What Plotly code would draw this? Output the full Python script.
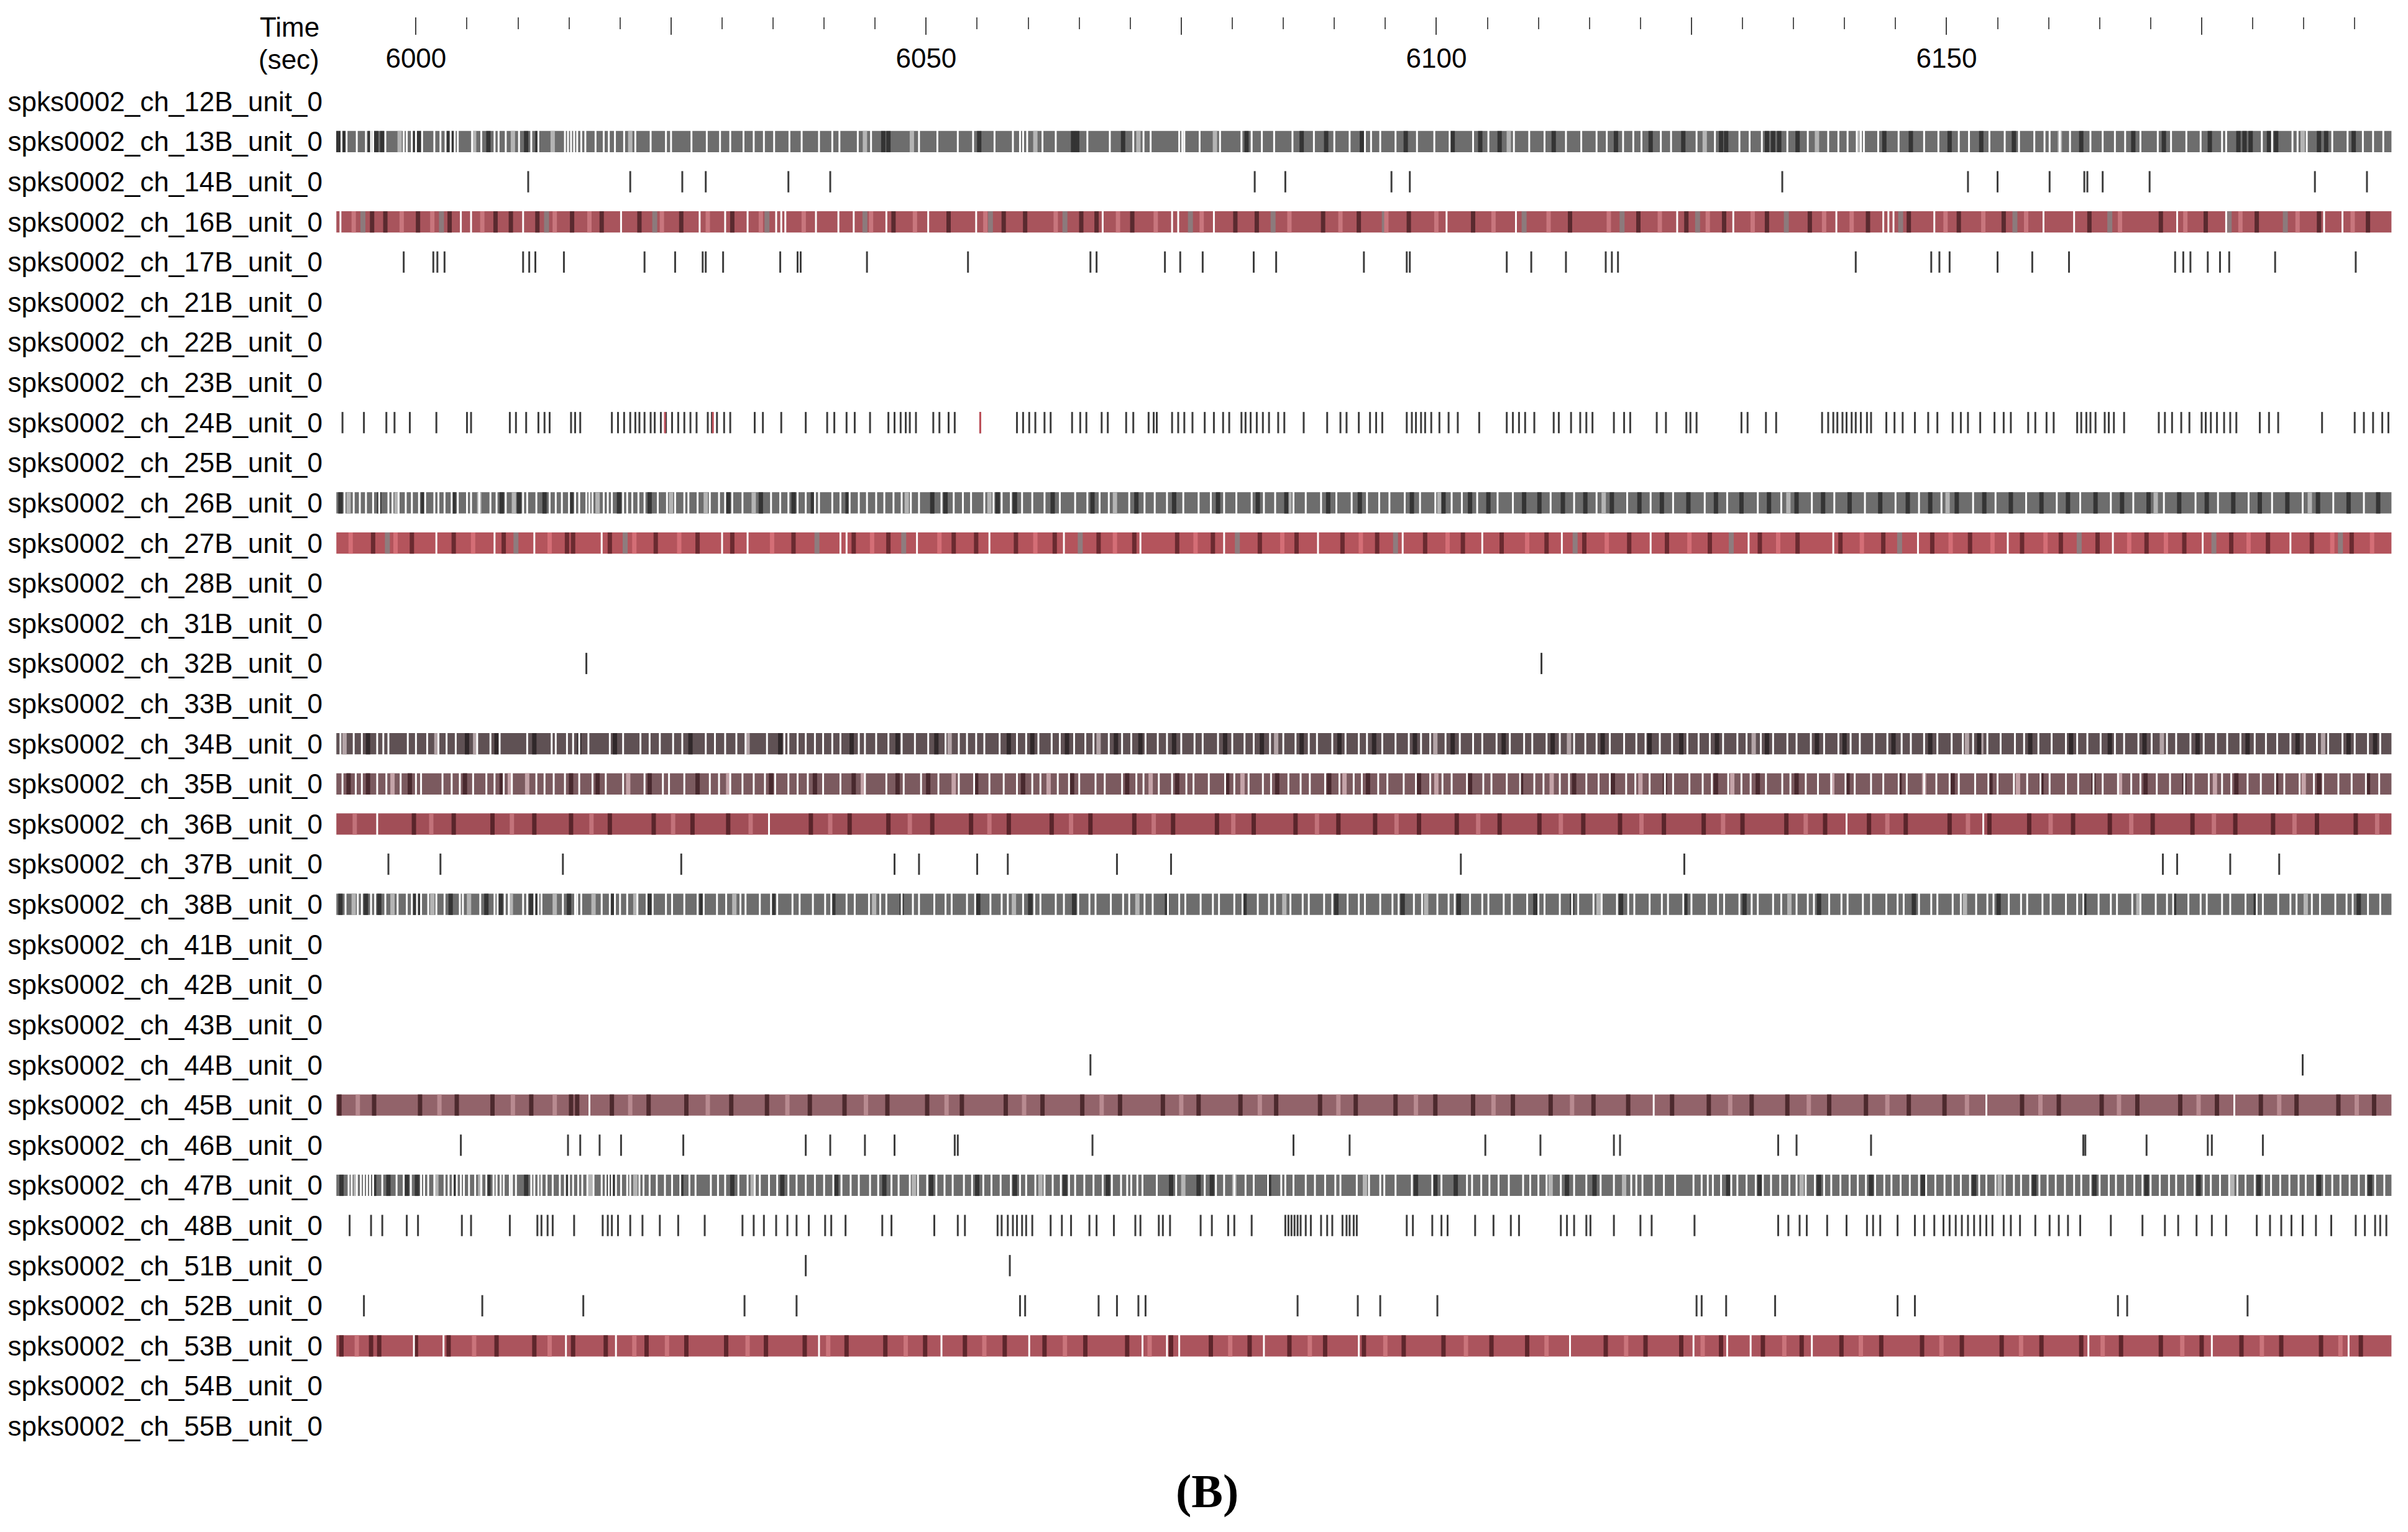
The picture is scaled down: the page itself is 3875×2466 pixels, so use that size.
import plotly.graph_objects as go

# channel rows, top to bottom
channels = ["12B", "13B", "14B", "16B", "17B", "21B", "22B", "23B", "24B", "25B",
            "26B", "27B", "28B", "31B", "32B", "33B", "34B", "35B", "36B", "37B",
            "38B", "41B", "42B", "43B", "44B", "45B", "46B", "47B", "48B", "51B",
            "52B", "53B", "54B", "55B"]
row_names = [f"spks0002_ch_{c}_unit_0" for c in channels]

t_start, t_end = 5992.2, 6193.6

# ---- sparse units: spike times (sec) ----
spikes_14B = [6011.0, 6021.0, 6026.1, 6028.4, 6036.5, 6040.6, 6082.2, 6085.2, 6095.6, 6097.4,
              6133.9, 6152.1, 6155.0, 6160.1, 6163.5, 6163.8, 6165.3, 6169.9, 6186.1, 6191.2]
spikes_17B = [5998.8, 6001.7, 6002.1, 6002.8, 6010.5, 6011.1, 6011.7, 6014.5, 6022.4, 6025.4,
              6028.1, 6028.4, 6030.1, 6035.7, 6037.4, 6037.7, 6044.2, 6054.1, 6066.1, 6066.7,
              6073.4, 6074.9, 6077.1, 6082.1, 6084.3, 6092.9, 6097.1, 6097.4, 6106.9, 6109.3,
              6112.7, 6116.6, 6117.2, 6117.8, 6141.1, 6148.5, 6149.3, 6150.3, 6155.0, 6158.4,
              6162.0, 6172.4, 6173.2, 6173.9, 6175.6, 6176.8, 6177.7, 6182.2, 6190.1]
spikes_24B = [5992.8, 5994.9, 5997.1, 5997.9, 5999.4, 6002.0, 6005.0, 6005.4, 6009.2, 6009.8,
              6010.8, 6012.0, 6012.6, 6013.1, 6015.2, 6015.6, 6016.1, 6019.2, 6019.8, 6020.4,
              6021.0, 6021.5, 6021.9, 6022.4, 6023.0, 6023.4, 6024.0, 6024.5, 6025.1, 6025.7,
              6026.3, 6026.9, 6027.5, 6028.6, 6029.0, 6029.5, 6030.2, 6030.8, 6033.2, 6034.0,
              6035.8, 6038.2, 6040.3, 6041.0, 6042.2, 6043.0, 6044.5, 6046.3, 6046.9, 6047.5,
              6048.0, 6048.4, 6049.0, 6050.7, 6051.3, 6052.2, 6052.8, 6055.3, 6058.9, 6059.5,
              6060.1, 6060.7, 6061.6, 6062.2, 6064.3, 6065.1, 6065.7, 6067.2, 6067.8, 6069.6,
              6070.3, 6071.8, 6072.3, 6072.6, 6074.1, 6074.7, 6075.3, 6076.1, 6077.3, 6078.2,
              6079.1, 6079.7, 6080.9, 6081.3, 6081.8, 6082.4, 6083.0, 6083.6, 6084.5, 6085.1,
              6087.0, 6089.3, 6090.6, 6091.2, 6092.4, 6093.5, 6094.1, 6094.7, 6097.1, 6097.6,
              6098.0, 6098.5, 6098.9, 6099.5, 6100.3, 6101.2, 6102.1, 6104.2, 6106.9, 6107.5,
              6108.1, 6108.7, 6109.6, 6111.5, 6112.0, 6113.2, 6114.1, 6114.7, 6115.3, 6117.4,
              6118.4, 6119.0, 6121.6, 6122.5, 6124.5, 6124.9, 6125.5, 6129.9, 6130.5, 6132.3,
              6133.3, 6137.8, 6138.4, 6138.9, 6139.3, 6139.8, 6140.2, 6140.7, 6141.1, 6141.6,
              6142.2, 6142.6, 6144.1, 6144.9, 6145.7, 6146.9, 6148.2, 6149.1, 6150.6, 6151.4,
              6152.1, 6153.3, 6154.7, 6155.6, 6156.3, 6158.0, 6158.7, 6159.8, 6160.5, 6162.8,
              6163.2, 6163.7, 6164.1, 6164.6, 6165.5, 6165.9, 6166.4, 6167.4, 6170.8, 6171.4,
              6172.1, 6173.0, 6173.8, 6175.0, 6175.4, 6175.9, 6176.5, 6177.2, 6177.8, 6178.4,
              6180.7, 6181.6, 6182.5, 6186.8, 6190.0, 6190.9, 6191.8, 6192.7, 6193.3]
spikes_24B_red = [6024.4, 6029.1, 6055.3]
spikes_32B = [6016.7, 6110.3]
spikes_37B = [5997.3, 6002.4, 6014.4, 6026.0, 6046.9, 6049.3, 6055.0, 6058.0, 6068.7, 6074.0,
              6102.4, 6124.3, 6171.2, 6172.6, 6177.8, 6182.6]
spikes_44B = [6066.1, 6184.9]
spikes_46B = [6004.4, 6014.9, 6016.1, 6018.0, 6020.1, 6026.2, 6038.2, 6040.6, 6044.0, 6046.9,
              6052.8, 6053.1, 6066.3, 6086.0, 6091.5, 6104.8, 6110.2, 6117.4, 6118.0, 6133.5,
              6135.3, 6142.6, 6163.4, 6163.6, 6169.6, 6175.6, 6176.0, 6181.0]
spikes_48B = [5993.5, 5995.6, 5996.7, 5999.1, 6000.2, 6004.5, 6005.4, 6009.2, 6011.9, 6012.3,
              6012.9, 6013.4, 6015.5, 6018.3, 6018.8, 6019.2, 6019.8, 6021.0, 6022.2, 6023.9,
              6025.7, 6028.3, 6032.0, 6033.1, 6034.1, 6035.3, 6036.4, 6037.3, 6038.5, 6040.1,
              6040.7, 6042.1, 6045.7, 6046.6, 6050.8, 6053.1, 6053.8, 6057.0, 6057.4, 6058.0,
              6058.5, 6058.9, 6059.4, 6059.8, 6060.4, 6062.2, 6063.3, 6064.2, 6066.0, 6066.7,
              6068.4, 6070.5, 6071.0, 6072.8, 6073.2, 6073.9, 6076.9, 6078.0, 6079.6, 6080.2,
              6081.9, 6085.2, 6085.5, 6085.8, 6086.1, 6086.4, 6086.7, 6087.2, 6087.7, 6088.7,
              6089.3, 6089.8, 6090.8, 6091.2, 6091.5, 6091.9, 6092.2, 6097.1, 6097.7, 6099.6,
              6100.5, 6101.1, 6103.8, 6105.6, 6107.3, 6108.1, 6112.2, 6112.8, 6113.5, 6114.7,
              6115.1, 6117.4, 6120.0, 6121.1, 6125.3, 6133.5, 6134.5, 6135.6, 6136.3, 6138.3,
              6140.2, 6142.2, 6142.8, 6143.5, 6145.2, 6146.9, 6147.8, 6148.8, 6149.7, 6150.3,
              6150.9, 6151.5, 6152.1, 6152.7, 6153.3, 6153.9, 6154.5, 6155.6, 6156.3, 6157.2,
              6158.7, 6160.1, 6161.0, 6161.9, 6163.1, 6166.1, 6169.2, 6171.4, 6172.7, 6174.5,
              6176.0, 6177.4, 6180.4, 6181.7, 6182.8, 6183.8, 6184.9, 6186.2, 6187.7, 6190.1,
              6191.0, 6192.0, 6192.5, 6193.1]
spikes_51B = [6038.2, 6058.2]
spikes_52B = [5994.9, 6006.5, 6016.4, 6032.2, 6037.3, 6059.2, 6059.7, 6066.9, 6068.7, 6070.8,
              6071.5, 6086.4, 6092.3, 6094.5, 6100.1, 6125.5, 6126.0, 6128.4, 6133.2, 6145.2,
              6146.9, 6166.8, 6167.7, 6179.5]

# ---- dense units: white gaps, dark / light / grey stripes (sec) ----
gaps_13B = [5992.7, 5993.2, 5994.2, 5995.1, 5995.6, 5995.8, 5997.0, 5998.8, 5999.1, 5999.6,
            6000.0, 6000.6, 6001.8, 6002.4, 6002.9, 6003.4, 6003.8, 6004.1, 6005.5, 6006.4,
            6007.7, 6008.1, 6008.8, 6010.1, 6011.3, 6012.0, 6014.6, 6014.9, 6015.2, 6015.5,
            6015.8, 6016.2, 6016.6, 6017.6, 6018.4, 6018.9, 6019.5, 6020.4, 6021.5, 6023.0,
            6024.5, 6025.0, 6027.0, 6028.5, 6029.8, 6030.8, 6032.1, 6033.1, 6034.1, 6035.1,
            6036.6, 6037.8, 6039.5, 6040.8, 6041.5, 6043.3, 6044.6, 6049.3, 6051.1, 6053.1,
            6054.6, 6056.7, 6058.5, 6059.2, 6059.5, 6059.9, 6061.4, 6062.7, 6065.8, 6068.0,
            6070.3, 6071.3, 6072.0, 6074.8, 6075.1, 6075.3, 6076.8, 6078.8, 6080.9, 6081.9,
            6082.9, 6084.1, 6085.9, 6088.0, 6090.0, 6091.5, 6093.0, 6093.6, 6094.5, 6096.0,
            6098.1, 6099.8, 6101.3, 6103.6, 6105.1, 6107.6, 6109.1, 6110.6, 6112.7, 6114.2,
            6115.7, 6116.7, 6118.3, 6119.3, 6120.1, 6122.0, 6123.0, 6125.5, 6127.3, 6129.7,
            6130.7, 6131.9, 6134.4, 6136.4, 6138.4, 6139.4, 6140.3, 6141.2, 6141.6, 6141.9,
            6143.3, 6145.3, 6147.8, 6149.2, 6151.2, 6152.2, 6154.2, 6155.7, 6157.1, 6158.6,
            6159.6, 6160.1, 6161.1, 6162.1, 6164.1, 6165.3, 6166.5, 6167.5, 6169.0, 6170.7,
            6172.0, 6173.5, 6174.9, 6177.0, 6177.4, 6180.9, 6181.9, 6183.9, 6184.4, 6185.3,
            6187.8, 6189.3, 6190.8, 6191.8, 6192.8]
dark_13B = [5992.4, 5992.9, 5995.5, 5996.1, 5996.7, 5999.8, 6000.3, 6003.2, 6003.6, 6007.1,
            6010.8, 6011.9, 6045.8, 6046.3, 6055.2, 6064.4, 6064.8, 6069.3, 6081.4, 6086.8,
            6089.2, 6092.7, 6097.0, 6101.6, 6104.3, 6106.2, 6111.5, 6117.6, 6121.0, 6124.2,
            6127.9, 6128.4, 6132.4, 6133.0, 6133.6, 6135.4, 6143.9, 6146.5, 6150.3, 6153.4,
            6156.6, 6163.2, 6168.3, 6171.3, 6175.8, 6178.6, 6179.2, 6179.8, 6181.6, 6182.3,
            6186.5, 6187.2, 6189.9]
light_13B = [5998.4, 6005.7, 6009.5, 6013.4, 6021.0, 6044.0, 6048.6, 6060.7, 6070.8, 6078.3,
             6107.1, 6126.3, 6137.3, 6141.5, 6161.1, 6184.9]

gaps_16B = [5992.6, 6004.4, 6005.4, 6010.5, 6020.1, 6027.8, 6030.3, 6032.5, 6035.3, 6035.8,
            6036.2, 6039.2, 6041.4, 6042.9, 6046.1, 6050.2, 6054.9, 6067.3, 6074.1, 6074.7,
            6078.2, 6101.0, 6107.8, 6123.6, 6129.1, 6139.2, 6143.8, 6144.3, 6144.8, 6148.8,
            6159.5, 6162.5, 6172.6, 6177.4, 6187.0, 6188.8]
dark_16B = [5995.7, 5997.0, 6000.2, 6003.3, 6007.8, 6009.3, 6011.9, 6015.3, 6018.2, 6021.9,
            6026.0, 6031.0, 6046.8, 6052.2, 6057.6, 6059.7, 6065.2, 6066.7, 6070.2, 6080.3,
            6082.4, 6088.9, 6092.4, 6097.3, 6103.6, 6113.1, 6119.8, 6124.5, 6128.2, 6132.4,
            6136.6, 6142.3, 6146.3, 6151.2, 6155.6, 6164.0, 6171.0, 6175.4, 6180.4, 6186.5,
            6191.3]
light_16B = [5993.9, 5998.6, 6001.6, 6006.5, 6013.6, 6017.0, 6024.1, 6028.6, 6033.8, 6038.0,
             6044.6, 6048.9, 6055.8, 6062.7, 6068.8, 6072.5, 6077.0, 6085.6, 6090.6, 6095.1,
             6100.0, 6105.6, 6111.0, 6116.9, 6121.9, 6126.6, 6131.0, 6138.0, 6140.7, 6149.9,
             6153.6, 6157.8, 6167.0, 6173.4, 6178.8, 6184.4, 6189.8]
grey_16B = [5994.8, 6002.5, 6012.8, 6023.4, 6034.4, 6044.0, 6056.3, 6063.6, 6075.9, 6084.0,
            6094.9, 6108.6, 6118.2, 6125.6, 6134.3, 6145.5, 6156.7, 6166.0, 6177.7, 6183.2]

gaps_26B = [5993.0, 5993.9, 5994.5, 5995.1, 5995.8, 5996.4, 5997.3, 5997.7, 5998.3, 5999.0,
            5999.6, 6000.3, 6000.9, 6001.8, 6002.2, 6002.8, 6003.5, 6004.1, 6005.0, 6005.4,
            6006.2, 6007.3, 6007.9, 6008.8, 6010.5, 6010.9, 6011.8, 6013.1, 6013.7, 6014.3,
            6015.0, 6015.6, 6016.0, 6016.7, 6017.0, 6017.3, 6018.4, 6018.8, 6019.2, 6020.3,
            6020.7, 6021.2, 6021.8, 6022.4, 6023.7, 6024.6, 6025.4, 6026.3, 6026.7, 6027.6,
            6028.8, 6029.7, 6030.3, 6031.0, 6032.0, 6034.8, 6035.7, 6036.5, 6037.4, 6038.2,
            6039.1, 6039.5, 6040.8, 6041.6, 6042.5, 6043.4, 6044.2, 6045.1, 6045.9, 6046.8,
            6047.6, 6048.5, 6049.3, 6051.5, 6052.7, 6053.6, 6054.4, 6055.7, 6056.6, 6057.4,
            6058.3, 6059.4, 6060.4, 6061.6, 6063.1, 6064.6, 6065.8, 6067.0, 6067.9, 6069.9,
            6071.4, 6072.4, 6073.6, 6075.2, 6076.7, 6077.9, 6079.2, 6080.4, 6081.9, 6083.1,
            6084.2, 6086.0, 6087.2, 6088.7, 6090.2, 6091.7, 6093.2, 6094.4, 6095.4, 6096.9,
            6098.4, 6099.9, 6101.5, 6102.5, 6104.0, 6106.0, 6107.5, 6111.2, 6113.5, 6115.7,
            6118.7, 6121.0, 6123.2, 6126.3, 6128.5, 6131.5, 6133.8, 6136.8, 6139.0, 6142.0,
            6145.0, 6147.3, 6149.5, 6152.6, 6154.8, 6157.8, 6160.8, 6163.1, 6166.1, 6168.3,
            6171.3, 6174.4, 6176.6, 6179.6, 6181.9, 6184.9, 6187.9, 6190.9]
dark_26B = [5992.6, 5996.4, 6000.7, 6003.7, 6008.4, 6010.1, 6012.6, 6015.2, 6019.9, 6022.9,
            6030.6, 6033.8, 6037.0, 6038.9, 6042.3, 6050.6, 6051.9, 6057.0, 6058.7, 6062.4,
            6066.3, 6070.6, 6074.3, 6078.6, 6082.5, 6085.3, 6089.4, 6092.5, 6097.6, 6100.7,
            6103.3, 6105.1, 6108.6, 6110.1, 6112.4, 6114.6, 6117.2, 6119.9, 6122.1, 6124.7,
            6127.4, 6129.9, 6132.6, 6135.3, 6137.9, 6140.5, 6143.5, 6146.2, 6148.4, 6151.0,
            6153.7, 6156.3, 6159.3, 6161.9, 6164.6, 6167.2, 6169.8, 6172.8, 6175.5, 6178.1,
            6180.7, 6183.4, 6186.4, 6189.4, 6192.3]
light_26B = [5993.4, 5998.1, 6006.2, 6009.6, 6017.8, 6025.0, 6028.4, 6033.1, 6048.1, 6056.2,
             6068.5, 6085.6, 6100.3, 6116.4, 6134.5, 6150.1, 6170.5, 6185.6]

gaps_27B = [6002.0, 6007.7, 6011.6, 6018.2, 6030.0, 6032.5, 6041.6, 6042.2, 6049.1, 6056.2,
            6063.5, 6071.0, 6079.2, 6088.4, 6096.7, 6104.5, 6112.3, 6121.0, 6130.6, 6138.9,
            6147.2, 6156.0, 6166.3, 6175.1, 6183.7]
dark_27B = [5995.8, 5999.6, 6003.7, 6008.6, 6014.8, 6015.4, 6019.0, 6023.5, 6027.6, 6031.0,
            6037.0, 6042.9, 6046.3, 6052.7, 6054.9, 6058.8, 6062.6, 6066.9, 6070.4, 6074.6,
            6078.1, 6082.7, 6086.3, 6090.8, 6094.2, 6098.9, 6102.6, 6106.4, 6110.8, 6114.5,
            6118.9, 6122.6, 6126.8, 6131.7, 6135.4, 6139.6, 6143.8, 6148.6, 6152.3, 6157.4,
            6161.2, 6164.8, 6169.6, 6173.3, 6177.9, 6181.5, 6185.8, 6189.7]
light_27B = [5993.6, 5998.0, 6005.6, 6013.1, 6021.4, 6025.8, 6034.9, 6044.7, 6051.3, 6060.7,
             6068.5, 6076.4, 6084.9, 6092.6, 6101.1, 6108.9, 6116.7, 6124.8, 6133.5, 6141.7,
             6150.4, 6154.5, 6159.7, 6167.9, 6171.5, 6179.6, 6187.8, 6191.7]
grey_27B = [5997.2, 6009.8, 6020.5, 6039.3, 6047.8, 6065.1, 6080.5, 6096.0, 6113.6, 6128.9,
            6145.4, 6163.0, 6176.2, 6188.6]

gaps_34B = [5992.6, 5993.9, 5994.7, 5996.2, 5996.8, 5997.3, 5999.2, 6000.0, 6001.1, 6002.2,
            6003.0, 6003.9, 6006.0, 6007.3, 6008.2, 6010.9, 6013.3, 6013.7, 6014.8, 6015.4,
            6016.0, 6016.9, 6019.0, 6020.3, 6022.0, 6022.9, 6023.9, 6025.2, 6026.1, 6028.4,
            6029.3, 6030.3, 6031.4, 6032.3, 6034.4, 6036.1, 6036.5, 6037.4, 6038.2, 6039.1,
            6039.9, 6040.8, 6041.6, 6043.4, 6044.0, 6045.1, 6046.3, 6047.6, 6048.9, 6050.2,
            6051.9, 6053.2, 6054.0, 6054.9, 6055.7, 6057.2, 6058.9, 6059.8, 6061.0, 6062.3,
            6063.1, 6064.5, 6065.6, 6066.4, 6067.9, 6069.2, 6070.1, 6071.5, 6072.7, 6073.6,
            6075.0, 6076.3, 6077.1, 6078.6, 6080.0, 6081.2, 6082.1, 6083.7, 6085.0, 6086.2,
            6087.5, 6088.3, 6089.8, 6091.1, 6092.4, 6093.2, 6094.7, 6096.0, 6097.3, 6098.5,
            6099.4, 6100.9, 6102.3, 6103.6, 6104.5, 6105.9, 6107.2, 6108.6, 6109.4, 6110.8,
            6112.1, 6113.5, 6114.6, 6115.7, 6117.0, 6118.4, 6119.6, 6120.5, 6121.9, 6123.1,
            6124.6, 6125.7, 6126.8, 6128.1, 6129.5, 6130.4, 6131.8, 6133.0, 6134.4, 6135.3,
            6136.7, 6138.0, 6139.4, 6140.6, 6141.5, 6142.9, 6144.2, 6145.6, 6146.5, 6147.8,
            6149.1, 6150.5, 6151.6, 6152.6, 6154.0, 6155.3, 6156.7, 6157.6, 6159.0, 6160.3,
            6161.7, 6162.8, 6163.8, 6165.1, 6166.5, 6167.4, 6168.8, 6170.1, 6171.6, 6172.5,
            6173.9, 6175.2, 6176.4, 6177.5, 6178.8, 6180.2, 6181.3, 6182.4, 6183.7, 6185.1,
            6186.3, 6187.4, 6188.8, 6190.0, 6191.3, 6192.5]
dark_34B = [5995.3, 6005.0, 6007.9, 6011.6, 6016.0, 6019.5, 6026.9, 6035.7, 6042.7, 6047.2,
            6051.0, 6058.1, 6060.4, 6063.8, 6068.6, 6071.0, 6074.3, 6079.3, 6082.9, 6086.8,
            6090.5, 6093.9, 6097.9, 6101.6, 6106.6, 6111.4, 6116.3, 6120.9, 6124.0, 6127.5,
            6132.4, 6137.3, 6140.0, 6144.8, 6148.4, 6153.2, 6158.2, 6162.2, 6166.0, 6169.4,
            6174.6, 6179.5, 6184.4, 6189.4, 6192.0]
light_34B = [5993.0, 6002.0, 6005.8, 6032.5, 6052.3, 6066.9, 6084.3, 6099.9, 6113.0, 6131.1,
             6152.0, 6153.4, 6171.1, 6186.9]

gaps_35B = [5992.8, 5994.1, 5994.7, 5996.2, 5997.1, 5998.5, 6000.0, 6000.5, 6002.6, 6003.5,
            6004.3, 6005.6, 6006.9, 6007.7, 6008.6, 6009.4, 6011.8, 6012.6, 6013.5, 6014.6,
            6016.0, 6017.3, 6018.6, 6020.3, 6022.4, 6024.2, 6024.8, 6026.3, 6028.8, 6029.7,
            6030.8, 6032.0, 6033.1, 6034.2, 6035.2, 6036.5, 6037.4, 6038.4, 6039.9, 6041.6,
            6044.0, 6046.1, 6047.8, 6049.5, 6051.2, 6053.2, 6054.7, 6056.2, 6057.6, 6058.9,
            6060.4, 6061.2, 6062.9, 6064.0, 6065.0, 6066.6, 6067.5, 6069.2, 6070.6, 6071.3,
            6072.8, 6074.1, 6075.5, 6076.2, 6077.7, 6079.3, 6080.2, 6081.6, 6083.0, 6083.8,
            6085.5, 6086.7, 6087.6, 6089.1, 6090.5, 6091.9, 6092.7, 6094.3, 6095.2, 6096.8,
            6098.0, 6099.4, 6100.6, 6101.5, 6103.0, 6104.6, 6105.4, 6106.9, 6108.2, 6109.6,
            6110.5, 6112.1, 6113.0, 6114.7, 6115.9, 6117.0, 6118.6, 6119.5, 6120.9, 6122.4,
            6123.2, 6124.8, 6126.1, 6127.0, 6128.6, 6129.9, 6130.8, 6132.3, 6133.9, 6134.7,
            6136.2, 6137.4, 6138.7, 6140.1, 6141.0, 6142.6, 6143.8, 6145.3, 6146.1, 6147.8,
            6149.0, 6150.3, 6151.2, 6152.8, 6154.1, 6155.0, 6156.6, 6157.9, 6159.2, 6160.1,
            6161.7, 6162.9, 6164.4, 6165.3, 6166.8, 6168.1, 6169.0, 6170.6, 6171.9, 6173.3,
            6174.2, 6175.7, 6177.0, 6177.9, 6179.5, 6180.8, 6182.2, 6183.1, 6184.6, 6186.0,
            6186.9, 6188.4, 6189.7, 6191.1, 6192.4]
dark_35B = [5993.4, 5995.3, 5999.4, 6004.8, 6008.4, 6015.2, 6017.8, 6022.9, 6027.6, 6034.8,
            6039.1, 6042.9, 6047.2, 6050.2, 6054.9, 6059.5, 6064.3, 6069.7, 6074.6, 6079.5,
            6084.4, 6089.5, 6093.3, 6098.3, 6103.3, 6108.3, 6113.5, 6117.3, 6122.4, 6127.4,
            6131.5, 6135.3, 6140.3, 6145.4, 6150.6, 6154.3, 6159.3, 6164.4, 6169.5, 6173.3,
            6178.4, 6182.3, 6186.5, 6191.3]
light_35B = [5997.7, 6009.2, 6010.9, 6020.8, 6030.6, 6043.8, 6052.7, 6062.0, 6072.0, 6081.0,
             6091.0, 6100.0, 6111.3, 6120.0, 6129.0, 6138.8, 6147.8, 6157.0, 6167.0, 6176.3,
             6185.0]

gaps_36B = [5996.2, 6034.6, 6140.2, 6153.6]
dark_36B = [5999.8, 6003.7, 6007.5, 6011.6, 6015.2, 6019.0, 6023.3, 6027.1, 6030.6, 6038.7,
            6042.5, 6046.3, 6050.6, 6054.4, 6058.1, 6062.3, 6066.1, 6070.4, 6074.2, 6078.5,
            6082.1, 6086.2, 6090.4, 6094.0, 6098.3, 6102.0, 6106.2, 6110.1, 6114.4, 6118.0,
            6122.3, 6126.2, 6130.0, 6134.3, 6138.1, 6142.4, 6146.0, 6150.3, 6154.2, 6158.1,
            6162.4, 6166.0, 6170.2, 6174.1, 6178.3, 6182.0, 6186.3, 6190.1]
light_36B = [5994.0, 6001.5, 6009.4, 6017.2, 6025.2, 6032.8, 6040.6, 6048.4, 6056.2, 6064.2,
             6072.3, 6080.1, 6088.3, 6096.1, 6104.1, 6112.2, 6120.1, 6128.1, 6136.2, 6144.2,
             6152.1, 6160.2, 6168.1, 6176.2, 6184.1, 6192.2]

gaps_38B = [5993.1, 5994.3, 5994.7, 5995.6, 5996.0, 5997.0, 5998.2, 5999.1, 5999.6, 6000.1,
            6000.5, 6001.2, 6002.0, 6002.8, 6004.3, 6004.6, 6006.3, 6007.7, 6008.0, 6008.7,
            6009.1, 6010.5, 6010.9, 6011.6, 6012.0, 6012.3, 6014.4, 6015.6, 6015.8, 6016.2,
            6018.2, 6019.0, 6019.5, 6020.0, 6020.7, 6021.7, 6022.6, 6023.2, 6024.5, 6025.1,
            6026.3, 6027.6, 6028.2, 6029.5, 6030.4, 6031.8, 6032.3, 6033.7, 6034.8, 6035.4,
            6036.9, 6037.6, 6038.9, 6040.1, 6040.7, 6042.2, 6043.0, 6044.4, 6045.5, 6046.1,
            6047.6, 6048.7, 6049.3, 6050.8, 6051.9, 6052.5, 6054.0, 6054.8, 6056.3, 6057.4,
            6058.0, 6059.5, 6060.6, 6061.2, 6062.7, 6063.5, 6064.9, 6066.0, 6066.6, 6068.1,
            6069.3, 6069.9, 6071.4, 6072.2, 6073.7, 6074.8, 6075.4, 6076.9, 6078.1, 6078.7,
            6080.2, 6081.0, 6082.5, 6083.6, 6084.2, 6085.7, 6086.9, 6087.5, 6089.0, 6089.8,
            6091.3, 6092.4, 6093.0, 6094.5, 6095.7, 6096.3, 6097.8, 6098.6, 6100.1, 6101.2,
            6101.8, 6103.3, 6104.5, 6105.1, 6106.6, 6107.4, 6108.9, 6110.0, 6110.6, 6112.1,
            6113.3, 6113.9, 6115.4, 6116.2, 6117.7, 6118.8, 6119.4, 6120.9, 6122.1, 6122.7,
            6124.2, 6125.0, 6126.5, 6127.6, 6128.2, 6129.7, 6130.9, 6131.5, 6133.0, 6133.8,
            6135.3, 6136.4, 6137.0, 6138.5, 6139.7, 6140.3, 6141.8, 6142.6, 6144.1, 6145.2,
            6145.8, 6147.3, 6148.5, 6149.1, 6150.6, 6151.4, 6152.9, 6154.0, 6154.6, 6156.1,
            6157.3, 6157.9, 6159.4, 6160.2, 6161.7, 6162.8, 6163.4, 6164.9, 6166.1, 6166.7,
            6168.2, 6169.0, 6170.5, 6171.6, 6172.2, 6173.7, 6174.9, 6175.5, 6177.0, 6177.8,
            6179.3, 6180.4, 6181.0, 6182.5, 6183.7, 6184.3, 6185.8, 6186.6, 6188.1, 6189.2,
            6189.8, 6191.3, 6192.5]
dark_38B = [5992.6, 5995.1, 5996.4, 5999.9, 6000.3, 6003.4, 6006.9, 6008.3, 6011.3, 6011.7,
            6015.0, 6019.2, 6022.9, 6028.0, 6035.0, 6040.9, 6047.6, 6055.1, 6060.2, 6064.5,
            6073.6, 6081.2, 6090.2, 6096.7, 6102.2, 6109.7, 6113.3, 6118.1, 6124.4, 6130.2,
            6137.5, 6146.8, 6155.1, 6163.5, 6172.3, 6180.3, 6190.4]
light_38B = [5993.9, 5997.7, 6001.6, 6005.2, 6009.3, 6013.6, 6017.4, 6021.5, 6031.2, 6044.9,
             6058.6, 6070.7, 6085.1, 6099.0, 6115.9, 6134.6, 6151.8, 6168.8, 6185.2]

gaps_45B = [6017.0, 6121.3, 6153.9, 6178.2]
dark_45B = [5992.5, 5995.9, 6000.4, 6004.0, 6007.5, 6011.3, 6015.2, 6015.8, 6019.2, 6022.8,
            6026.5, 6030.9, 6034.4, 6038.6, 6042.0, 6046.2, 6050.1, 6053.5, 6057.8, 6061.4,
            6065.3, 6069.0, 6073.2, 6076.7, 6080.8, 6084.3, 6088.6, 6092.1, 6096.0, 6099.9,
            6103.6, 6107.5, 6111.2, 6115.4, 6118.8, 6123.1, 6126.7, 6130.9, 6134.4, 6138.5,
            6142.1, 6146.3, 6149.8, 6157.4, 6161.0, 6165.2, 6168.7, 6172.9, 6176.5, 6180.8,
            6184.3, 6188.4, 6191.9]
light_45B = [5994.3, 6002.3, 6009.5, 6013.6, 6021.0, 6028.6, 6036.4, 6044.1, 6052.0, 6059.6,
             6067.2, 6075.0, 6082.7, 6090.4, 6098.0, 6105.6, 6113.3, 6128.8, 6136.5, 6144.2,
             6152.0, 6159.2, 6166.9, 6174.7, 6182.6, 6190.2]

gaps_47B = [5993.4, 5993.7, 5994.2, 5994.6, 5994.9, 5995.2, 5995.5, 5995.8, 5996.7, 5998.1,
            5998.8, 5999.5, 6000.5, 6000.8, 6001.2, 6001.8, 6002.8, 6003.2, 6003.6, 6004.0,
            6004.4, 6004.7, 6005.2, 6005.8, 6006.4, 6006.9, 6007.6, 6007.9, 6008.3, 6008.6,
            6009.2, 6009.4, 6009.8, 6011.3, 6011.6, 6012.0, 6012.3, 6012.8, 6013.4, 6014.1,
            6014.6, 6015.0, 6015.4, 6015.9, 6016.3, 6016.8, 6017.4, 6018.2, 6018.6, 6018.9,
            6019.2, 6019.6, 6020.1, 6020.7, 6021.0, 6021.9, 6022.3, 6022.9, 6023.6, 6024.4,
            6025.1, 6025.9, 6026.8, 6027.4, 6028.9, 6029.6, 6030.3, 6031.6, 6032.5, 6033.2,
            6033.7, 6034.6, 6035.4, 6036.5, 6037.3, 6038.2, 6039.1, 6040.0, 6040.9, 6041.7,
            6042.6, 6043.4, 6044.5, 6045.3, 6046.6, 6047.3, 6048.4, 6049.2, 6050.1, 6051.0,
            6051.8, 6052.6, 6053.7, 6054.5, 6055.6, 6056.4, 6057.3, 6058.3, 6059.2, 6059.8,
            6060.7, 6061.6, 6062.4, 6063.2, 6064.0, 6064.6, 6065.5, 6066.4, 6067.3, 6068.2,
            6069.1, 6069.7, 6070.1, 6070.7, 6071.2, 6072.6, 6074.5, 6077.3, 6078.4, 6079.2,
            6080.2, 6081.3, 6082.1, 6083.5, 6084.8, 6085.2, 6086.0, 6087.2, 6088.1, 6089.1,
            6090.1, 6090.6, 6092.2, 6093.4, 6094.5, 6094.9, 6096.0, 6097.6, 6099.6, 6100.5,
            6103.0, 6103.5, 6104.4, 6105.2, 6106.1, 6107.1, 6108.5, 6109.2, 6110.0, 6110.8,
            6112.2, 6113.5, 6114.7, 6116.1, 6117.4, 6119.1, 6119.6, 6120.2, 6121.3, 6122.3,
            6123.4, 6125.2, 6126.0, 6126.6, 6127.1, 6127.9, 6128.9, 6129.5, 6130.4, 6131.3,
            6132.0, 6132.8, 6133.7, 6134.6, 6135.3, 6136.2, 6137.1, 6138.0, 6138.7, 6139.6,
            6140.5, 6141.3, 6142.1, 6143.0, 6143.9, 6144.6, 6145.5, 6146.4, 6147.3, 6148.0,
            6148.9, 6149.8, 6150.6, 6151.4, 6152.3, 6153.2, 6153.9, 6154.8, 6155.7, 6156.6,
            6157.3, 6158.2, 6159.1, 6159.9, 6160.7, 6161.6, 6162.5, 6163.2, 6164.1, 6165.0,
            6165.9, 6166.6, 6167.5, 6168.4, 6169.2, 6170.0, 6170.9, 6171.8, 6172.5, 6173.4,
            6174.3, 6175.2, 6175.9, 6176.8, 6177.7, 6178.5, 6179.3, 6180.2, 6181.1, 6181.8,
            6182.7, 6183.6, 6184.5, 6185.2, 6186.1, 6187.0, 6187.8, 6188.6, 6189.5, 6190.4,
            6191.1, 6192.0, 6192.9]
dark_47B = [5992.7, 5995.9, 5997.3, 5999.1, 6000.1, 6003.8, 6007.1, 6010.8, 6014.8, 6018.9,
            6019.3, 6026.0, 6031.0, 6035.9, 6041.2, 6045.9, 6050.5, 6055.0, 6058.7, 6063.6,
            6067.8, 6074.0, 6076.7, 6078.0, 6083.6, 6098.0, 6099.9, 6101.9, 6112.8, 6115.5,
            6128.6, 6131.7, 6137.5, 6142.6, 6147.7, 6152.7, 6158.6, 6164.5, 6169.6, 6174.7,
            6180.6, 6186.5, 6191.5]
light_47B = [5994.1, 6002.0, 6006.3, 6017.1, 6021.5, 6033.0, 6048.8, 6061.2, 6075.2, 6080.2,
             6093.0, 6111.2, 6118.4, 6135.8, 6155.2, 6178.0]

gaps_53B = [5999.8, 6002.7, 6014.7, 6019.6, 6039.5, 6051.5, 6060.1, 6071.2, 6073.6, 6074.8,
            6083.1, 6092.4, 6113.1, 6125.2, 6128.5, 6130.8, 6136.8, 6163.9, 6176.0, 6189.4]
dark_53B = [5992.7, 5995.6, 5996.4, 6000.0, 6003.2, 6007.9, 6011.6, 6015.4, 6018.6, 6022.6,
            6026.5, 6030.4, 6034.3, 6038.1, 6042.2, 6046.0, 6049.9, 6053.8, 6057.7, 6061.6,
            6065.6, 6069.7, 6074.0, 6077.9, 6081.7, 6085.6, 6089.1, 6092.9, 6096.8, 6100.7,
            6105.4, 6108.9, 6116.6, 6120.5, 6124.0, 6127.9, 6132.0, 6135.8, 6139.7, 6143.6,
            6147.6, 6151.5, 6155.4, 6159.3, 6163.2, 6167.1, 6171.0, 6175.0, 6178.9, 6182.8,
            6186.7, 6190.6]
light_53B = [5994.2, 6005.7, 6013.1, 6021.4, 6024.6, 6032.5, 6040.4, 6048.0, 6055.7, 6063.6,
             6071.9, 6079.8, 6087.6, 6095.0, 6102.9, 6110.8, 6118.6, 6126.1, 6134.1, 6141.6,
             6149.5, 6157.3, 6165.3, 6173.1, 6180.9, 6188.6]

sparse = {"14B": spikes_14B, "17B": spikes_17B, "24B": spikes_24B, "32B": spikes_32B,
          "37B": spikes_37B, "44B": spikes_44B, "46B": spikes_46B, "48B": spikes_48B,
          "51B": spikes_51B, "52B": spikes_52B}

# colours per dense row: band, dark stripe, light stripe, grey stripe
GRAY = ("#6d6d6d", "#343434", "#b4b4b4", "#8a8a8a")
dense = {
    "13B": (GRAY, gaps_13B, dark_13B, light_13B, []),
    "16B": (("#a8545c", "#5a2a2f", "#c8767d", "#8c7a7c"), gaps_16B, dark_16B, light_16B, grey_16B),
    "26B": (GRAY, gaps_26B, dark_26B, light_26B, []),
    "27B": (("#b4545c", "#6a2a30", "#d46e76", "#8e7c7e"), gaps_27B, dark_27B, light_27B, grey_27B),
    "34B": (("#5f5154", "#30282a", "#b3a4a7", "#807275"), gaps_34B, dark_34B, light_34B, []),
    "35B": (("#7b5a5f", "#48292e", "#c4a3a8", "#8a7a7d"), gaps_35B, dark_35B, light_35B, []),
    "36B": (("#a14e57", "#5a252b", "#c2727a", "#8a7a7c"), gaps_36B, dark_36B, light_36B, []),
    "38B": (GRAY, gaps_38B, dark_38B, light_38B, []),
    "45B": (("#92636a", "#4d2a2e", "#b88a90", "#85797b"), gaps_45B, dark_45B, light_45B, []),
    "47B": (GRAY, gaps_47B, dark_47B, light_47B, []),
    "53B": (("#ab545d", "#5e262c", "#ca747b", "#8a7a7c"), gaps_53B, dark_53B, light_53B, []),
}

HALF = 0.265  # half tick height, in rows


def tick_trace(row, times, color, width, half=HALF):
    xs, ys = [], []
    for t in times:
        xs += [t, t, None]
        ys += [row - half, row + half, None]
    return go.Scatter(x=xs, y=ys, mode="lines", line=dict(color=color, width=width),
                      hoverinfo="skip", showlegend=False)


fig = go.Figure()

for r, ch in enumerate(channels):
    if ch in dense:
        (band, dark, light, grey), gaps, darks, lights, greys = dense[ch]
        fig.add_trace(go.Bar(x=[t_end - t_start], y=[r], base=[t_start], orientation="h",
                             width=2 * HALF, marker=dict(color=band, line=dict(width=0)),
                             hoverinfo="skip", showlegend=False))
        if greys:
            fig.add_trace(tick_trace(r, greys, grey, 8))
        if lights:
            fig.add_trace(tick_trace(r, lights, light, 7))
        if darks:
            fig.add_trace(tick_trace(r, darks, dark, 7))
        if gaps:
            fig.add_trace(tick_trace(r, gaps, "white", 3, HALF + 0.03))
    elif ch in sparse:
        fig.add_trace(tick_trace(r, sparse[ch], "#3d3d3d", 3))
        if ch == "24B":
            fig.add_trace(tick_trace(r, spikes_24B_red, "#c0505a", 3))

# helper traces so the top tick axis and label axis get drawn
fig.add_trace(go.Scatter(x=[6000], y=[0], xaxis="x2", mode="markers",
                         marker=dict(opacity=0), hoverinfo="skip", showlegend=False))
fig.add_trace(go.Scatter(x=[6000], y=[0], xaxis="x3", mode="markers",
                         marker=dict(opacity=0), hoverinfo="skip", showlegend=False))

FONT = "Liberation Sans, Arial, Helvetica, sans-serif"
FS = 44
W, H = 3875, 2466
OFF = 8  # the page body margin shifts the figure by this much
# page pixel layout: plot x from 538 to 3850, tick row top at 27, rows from 131 to 2328
ML = 538 - OFF
MR = W - (3850 - OFF)
MT = 27 - OFF
MB = H - (2328 - OFF)
paper_h = H - MT - MB
plot_w = W - ML - MR


def py(page_y):
    """paper y fraction for a pixel row of the page"""
    return (H - MB - (page_y - OFF)) / paper_h


minor_vals = [v for v in range(6000, 6191, 5) if v % 25]

fig.update_layout(
    width=W, height=H,
    margin=dict(l=ML, r=MR, t=MT, b=MB, autoexpand=False),
    paper_bgcolor="white", plot_bgcolor="white",
    font=dict(family=FONT, size=FS, color="black"),
    barmode="overlay",
    xaxis=dict(range=[5992.0, 6193.7], visible=False, showgrid=False, zeroline=False,
               automargin=False),
    xaxis2=dict(matches="x", overlaying="x", anchor="free", position=1.0, side="top",
                showgrid=False, zeroline=False, showline=False, showticklabels=False,
                automargin=False,
                ticks="inside", ticklen=28, tickwidth=2, tickcolor="#444444",
                tickmode="array", tickvals=list(range(6000, 6191, 25)),
                minor=dict(ticks="inside", ticklen=19, tickwidth=2, tickcolor="#555555",
                           tickmode="array", tickvals=minor_vals, showgrid=False)),
    xaxis3=dict(matches="x", overlaying="x", anchor="free", position=py(64),
                side="bottom", showgrid=False, zeroline=False, showline=False, ticks="",
                automargin=False,
                tickmode="array", tickvals=[6000, 6050, 6100, 6150],
                tickfont=dict(family=FONT, size=FS, color="black")),
    yaxis=dict(domain=[0, py(131)],
               range=[len(channels) - 0.5, -0.5], showgrid=False, zeroline=False,
               showline=False, ticks="", tickmode="array", automargin=False,
               tickvals=list(range(len(channels))), ticktext=row_names,
               tickfont=dict(family=FONT, size=FS, color="black"),
               ticklabelstandoff=18),
    annotations=[
        dict(text="Time", x=-22 / plot_w, y=py(44),
             xref="paper", yref="paper", xanchor="right", yanchor="middle",
             showarrow=False, font=dict(family=FONT, size=FS, color="black")),
        dict(text="(sec)", x=-22 / plot_w, y=py(95),
             xref="paper", yref="paper", xanchor="right", yanchor="middle",
             showarrow=False, font=dict(family=FONT, size=FS, color="black")),
        dict(text="<b>(B)</b>", x=(1942 - 538) / plot_w, y=py(2400),
             xref="paper", yref="paper", xanchor="center", yanchor="middle",
             showarrow=False, font=dict(family="Liberation Serif, Times New Roman, serif",
                                        size=76, color="black")),
    ],
)

fig.write_html("out.html")
